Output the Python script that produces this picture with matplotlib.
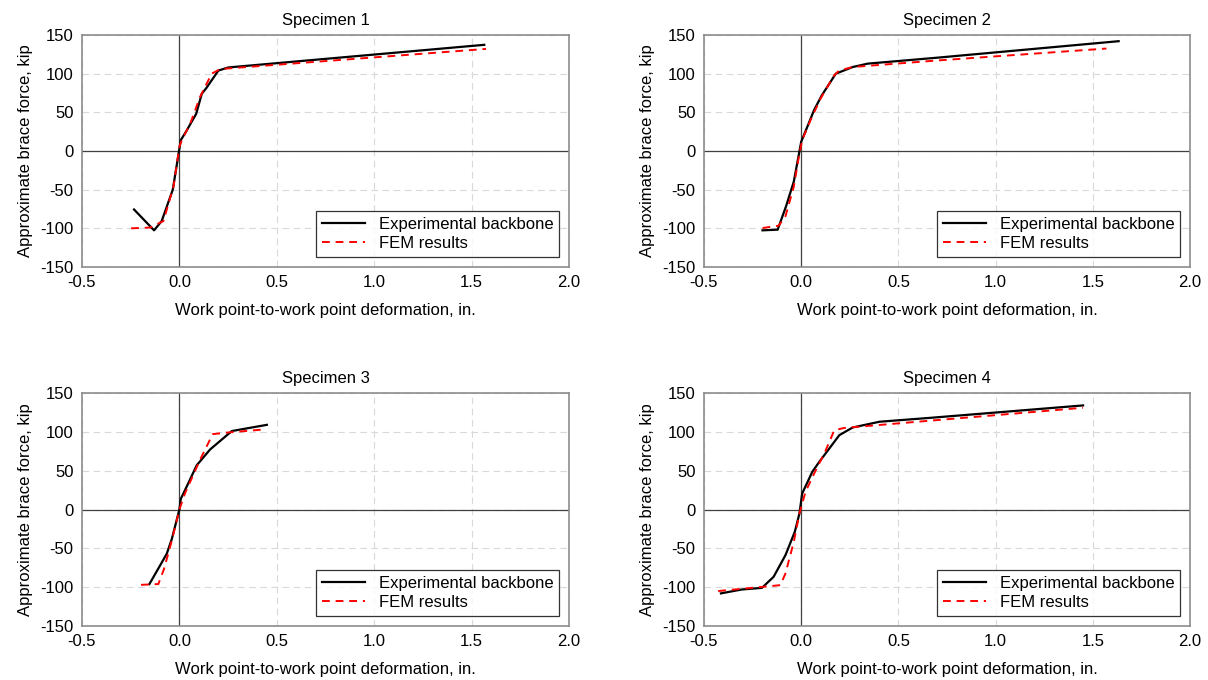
import matplotlib
matplotlib.use("Agg")
import matplotlib.pyplot as plt

plt.rcParams['font.family'] = ['Liberation Sans', 'DejaVu Sans']
plt.rcParams['axes.unicode_minus'] = False

# ---- data ----
titles = ['Specimen 1', 'Specimen 2', 'Specimen 3', 'Specimen 4']

exp1_x = [-0.233, -0.13, -0.091, -0.034, 0.007, 0.034, 0.086, 0.115, 0.14, 0.2, 0.25, 1.565]
exp1_y = [-75.6, -102.6, -90.6, -50, 14, 25, 48, 74, 82, 104, 108, 137.3]
fem1_x = [-0.248, -0.15, -0.082, -0.03, 0.0, 0.012, 0.055, 0.106, 0.166, 0.21, 1.574]
fem1_y = [-100, -99, -90.6, -45.7, 5.5, 14, 35, 70, 100, 106, 132]

exp2_x = [-0.199, -0.121, -0.078, -0.038, 0.0, 0.031, 0.066, 0.106, 0.178, 0.265, 0.343, 0.697, 1.633]
exp2_y = [-102.6, -101.7, -71.5, -39.5, 12, 31, 52.8, 72, 100, 108.6, 113, 120.6, 142]
fem2_x = [-0.199, -0.116, -0.081, -0.038, -0.012, 0.005, 0.048, 0.1, 0.17, 0.195, 0.265, 0.49, 0.697, 1.57]
fem2_y = [-99.6, -96.6, -84.5, -46, -7.3, 14, 40, 68, 98, 104, 108.6, 113, 117, 132.5]

exp3_x = [-0.154, -0.099, -0.065, -0.039, 0.0, 0.007, 0.046, 0.089, 0.158, 0.269, 0.449]
exp3_y = [-96, -72, -57, -38, 0, 13.6, 34, 57, 77.4, 101, 109]
fem3_x = [-0.197, -0.108, -0.079, -0.039, 0.0, 0.029, 0.106, 0.171, 0.243, 0.432]
fem3_y = [-97, -96, -76.6, -40, 0, 21, 64, 97, 99, 103]

exp4_x = [-0.413, -0.306, -0.202, -0.142, -0.081, -0.033, -0.009, 0.005, 0.057, 0.092, 0.196, 0.265, 0.403, 0.663, 1.45]
exp4_y = [-108, -103, -100.9, -86.7, -58.8, -28.8, -5, 20.6, 48.5, 61, 95.7, 105.6, 113, 118, 134]
fem4_x = [-0.427, -0.289, -0.107, -0.081, -0.038, -0.009, 0.022, 0.066, 0.126, 0.17, 0.221, 0.49, 1.45]
fem4_y = [-105, -101.7, -97.4, -82.4, -41.6, -5, 22.7, 46, 76, 102, 105, 110.7, 131]

exp_series = [(exp1_x, exp1_y), (exp2_x, exp2_y), (exp3_x, exp3_y), (exp4_x, exp4_y)]
fem_series = [(fem1_x, fem1_y), (fem2_x, fem2_y), (fem3_x, fem3_y), (fem4_x, fem4_y)]

x_ticks = [-0.5, 0.0, 0.5, 1.0, 1.5, 2.0]
y_ticks = [-150, -100, -50, 0, 50, 100, 150]

# ---- figure ----
fig = plt.figure(figsize=(12.08, 6.8), dpi=100)
W, H = 1208, 680
boxes = [(82, 35, 487, 232), (704, 35, 486, 232),
         (82, 393, 487, 233), (704, 393, 486, 233)]

for i, (l, t, w, h) in enumerate(boxes):
    ax = fig.add_axes([l / W, (H - t - h) / H, w / W, h / H])
    ex, ey = exp_series[i]
    fx, fy = fem_series[i]
    ax.plot(ex, ey, color='black', lw=1.6, label='Experimental backbone', zorder=3)
    ax.plot(fx, fy, color='#ff0000', lw=1.4, ls=(0, (4, 3)), label='FEM results', zorder=4)

    ax.axhline(0, color='#404040', lw=0.9, zorder=2)
    ax.axvline(0, color='#404040', lw=0.9, zorder=2)

    ax.set_xlim(-0.5, 2.0)
    ax.set_ylim(-150, 150)
    ax.set_xticks(x_ticks)
    ax.set_yticks(y_ticks)
    ax.set_xticklabels([f'{v:.1f}' for v in x_ticks])
    ax.tick_params(length=0, labelsize=12, pad=6, colors='#000000')
    ax.grid(True, color='#d9d9d9', ls=(0, (6, 4)), lw=0.8, zorder=0)
    for s in ax.spines.values():
        s.set_color('#8c8c8c')
        s.set_linewidth(1.2)

    ax.set_title(titles[i], fontsize=12, pad=7)
    ax.set_xlabel('Work point-to-work point deformation, in.', fontsize=12, labelpad=9)
    ax.set_ylabel('Approximate brace force, kip', fontsize=12, labelpad=5)

    leg = ax.legend(loc='lower right', fontsize=12, frameon=True, fancybox=False,
                    borderaxespad=0.6, handlelength=2.6, labelspacing=0.25,
                    borderpad=0.35)
    leg.get_frame().set_edgecolor('black')
    leg.get_frame().set_linewidth(0.9)

fig.savefig('out.png', dpi=100)
